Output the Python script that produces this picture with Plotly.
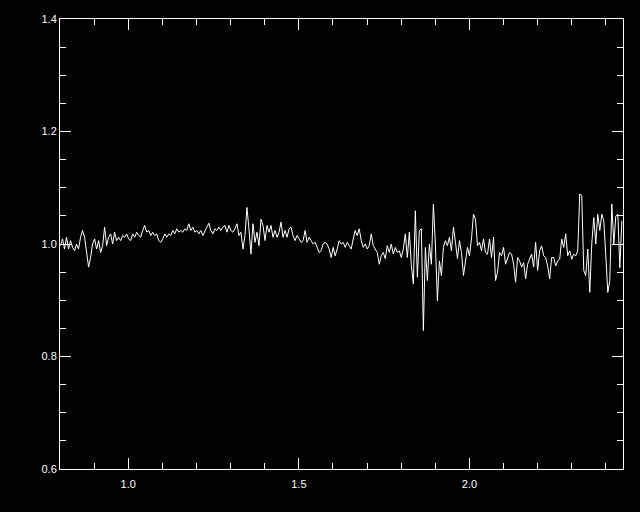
import numpy as np
import plotly.graph_objects as go

# Flux values, in segments of increasing wavelength
flux_seg1 = [0.997,1.009,0.991,1.012,0.991,1.006,0.994,0.988,1.000,0.991,1.012,1.024,1.012,0.982,0.959,0.976,1.000,1.009,0.991,1.006,
             0.985,0.997,1.030,0.997,1.012,1.018,1.000,1.021,1.006,1.012,1.006,1.015,1.012,1.018,1.009,1.006,1.018,1.012,1.021,1.015]
flux_seg2 = [1.012,1.024,1.033,1.021,1.024,1.015,1.021,1.015,1.018,1.006,1.003,1.009,1.018,1.012,1.018,1.015,1.024,1.018,1.027,1.021,
             1.024,1.021,1.027,1.024,1.036,1.024,1.030,1.021,1.024,1.018,1.024,1.015,1.024,1.030,1.037,1.024,1.018,1.027,1.024,1.030]
flux_seg3 = [1.024,1.030,1.033,1.021,1.033,1.024,1.021,1.027,1.036,1.015,1.021,0.991,1.015,1.065,1.027,0.982,1.036,1.003,1.021,0.997,
             1.044,1.033,1.006,1.033,1.021,1.033,1.012,1.024,1.012,1.021,1.039,1.012,1.024,1.012,1.027,1.030,1.015,1.006,1.015,1.009]
flux_seg4 = [1.003,1.006,1.024,1.003,1.012,1.006,1.000,1.003,0.994,0.985,0.988,1.000,1.003,1.000,0.991,0.976,0.994,0.979,0.991,1.006,
             1.000,1.003,0.994,1.003,0.997,0.991,1.009,1.024,1.015,1.027,1.006,0.994,1.000,0.991,0.997,1.018,0.997,0.991,0.985,0.964]
flux_seg5 = [0.979,0.985,0.974,0.997,0.985,1.000,0.982,0.994,0.985,0.988,0.976,0.991,1.018,0.976,1.021,0.962,0.929,1.059,0.941,1.024,
             1.027,0.846,0.994,0.935,1.000,0.964,1.071,1.000,0.899,0.970,0.944,0.994,1.006,0.997,1.012,0.988,1.030,1.003,0.974,1.006]
flux_seg6 = [0.985,0.944,0.970,0.994,0.979,1.009,1.053,1.044,0.997,1.003,0.988,1.009,0.985,0.982,1.009,0.976,1.012,0.935,0.950,0.985,
             0.979,0.994,0.964,0.976,0.985,0.982,0.964,0.932,0.976,0.970,0.959,0.967,0.938,0.964,0.974,0.982,0.959,1.003,0.953,0.988]
flux_seg7 = [0.997,0.979,0.976,0.961,0.938,0.976,0.976,0.961,0.970,0.973,1.009,0.994,1.018,0.979,0.988,0.973,0.982,0.979,0.988,1.089,
             1.086,0.953,0.944,0.991,0.914,1.000,1.047,1.000,1.053,1.024,1.053,1.041,0.979,0.914,0.935,1.071,1.000,1.050,1.053,0.958,1.041]

flux = flux_seg1 + flux_seg2 + flux_seg3 + flux_seg4 + flux_seg5 + flux_seg6 + flux_seg7
wave_start, wave_end = 0.8015, 2.4466
wave = np.linspace(wave_start, wave_end, len(flux))

x_range = [0.8, 2.45]
y_range = [0.6, 1.4]

fig = go.Figure()
fig.add_trace(go.Scatter(x=wave, y=flux, mode="lines",
                         line=dict(color="white", width=1), hoverinfo="skip"))

axis_common = dict(
    showgrid=False, zeroline=False,
    showline=True, linecolor="white", linewidth=1, mirror="ticks",
    ticks="inside", tickcolor="white", tickwidth=1, ticklen=11,
    tickfont=dict(family="Liberation Sans", size=11, color="white"),
)

fig.update_xaxes(range=x_range, tick0=0, dtick=0.5, tickformat=".1f", ticklabelstandoff=5,
                 minor=dict(ticks="inside", ticklen=6, tickcolor="white", dtick=0.1, tick0=0, showgrid=False),
                 **axis_common)
fig.update_yaxes(range=y_range, tick0=0, dtick=0.2, tickformat=".1f",
                 minor=dict(ticks="inside", ticklen=6, tickcolor="white", dtick=0.05, tick0=0, showgrid=False),
                 **axis_common)

fig.update_layout(
    width=640, height=512,
    paper_bgcolor="black", plot_bgcolor="black",
    margin=dict(l=60, r=17, t=19, b=43),
    showlegend=False,
)

fig.write_html(
    "out.html",
    config={"displayModeBar": False},
    post_script="document.body.style.margin='0';document.body.style.background='black';document.body.style.overflow='hidden';",
)
